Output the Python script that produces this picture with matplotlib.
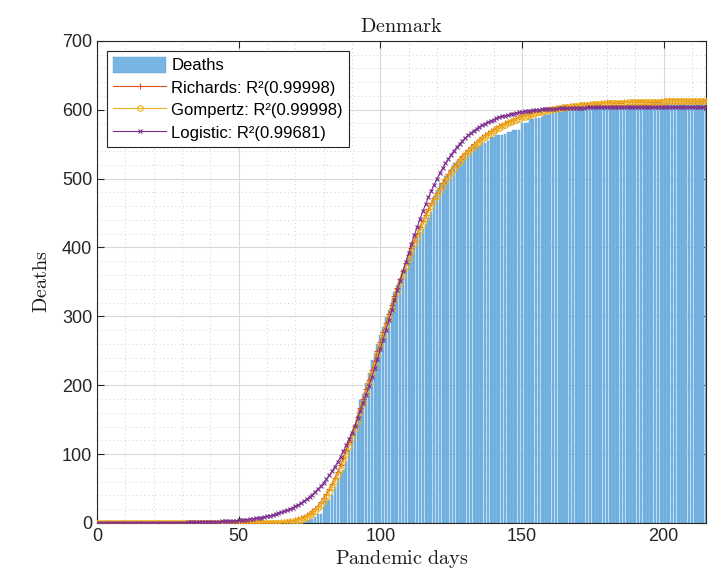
import numpy as np
import matplotlib
matplotlib.use("Agg")
import matplotlib.pyplot as plt
from matplotlib.ticker import MultipleLocator

# cumulative deaths, one value per pandemic day (days 1..70 are zero)
early_zero_days = 70
deaths_tail = [
    1, 2, 3, 4, 4, 6, 9, 13, 13, 24, 32, 34, 41, 52, 65, 72, 77, 90,
    104, 123, 139, 161, 179, 187, 203, 218, 237, 247, 260, 273, 285, 299, 309,
    321, 336, 346, 355, 364, 370, 384, 394, 403, 418, 422, 427, 434, 443, 452,
    475, 484, 493, 493, 503, 506, 514, 522, 526, 527, 529, 533, 537, 543, 547,
    548, 548, 551, 551, 554, 561, 561, 563, 563, 563, 565, 568, 568, 571, 571,
    571,
    580, 580, 580, 586, 587, 588, 588, 590, 593, 593, 594, 595, 597, 597, 597,
    598, 598, 598, 600, 600, 600, 600, 602, 603, 603, 604, 604, 604, 604, 605,
    605, 605, 606, 606, 606, 606, 606, 607, 607, 607, 607, 607, 607, 608, 608,
    608, 609, 609, 609, 609, 609, 609, 609, 610, 610, 610, 610, 610, 610, 611,
    611, 611, 611, 612, 612, 612, 612,
]
deaths = [0] * early_zero_days + deaths_tail
days = np.arange(1, len(deaths) + 1)

# fitted model parameters
richards_K, richards_r, richards_t0, richards_nu = 613.0, 0.0625, 97.6, 0.04
gompertz_K, gompertz_c, gompertz_ti = 613.0, 0.0613, 97.7
logistic_K, logistic_r, logistic_t0 = 604.0, 0.095, 103.5

labels = ["Deaths", "Richards: R\u00b2(0.99998)", "Gompertz: R\u00b2(0.99998)",
          "Logistic: R\u00b2(0.99681)"]

t = np.arange(0, len(deaths) + 1)
richards = richards_K * (1 + richards_nu * np.exp(-richards_r * (t - richards_t0))) ** (-1 / richards_nu)
gompertz = gompertz_K * np.exp(-np.exp(-gompertz_c * (t - gompertz_ti)))
logistic = logistic_K / (1 + np.exp(-logistic_r * (t - logistic_t0)))

plt.rcParams['font.family'] = ['Liberation Sans', 'DejaVu Sans']
plt.rcParams['mathtext.fontset'] = 'cm'

fig = plt.figure(figsize=(7.19, 5.83), dpi=100)
ax = fig.add_axes([0.135, 0.103, 0.847, 0.827])

bars = ax.bar(days, deaths, width=0.8, color='#78b5e2', edgecolor='#5ea3d6',
              linewidth=0.3, zorder=2)
l1, = ax.plot(t, richards, color='#D95319', marker='+', markersize=5, linewidth=0.8,
              markeredgewidth=0.8, zorder=3)
l2, = ax.plot(t, gompertz, color='#EDB120', marker='o', markersize=4, linewidth=0.8,
              markerfacecolor='none', markeredgewidth=0.8, zorder=4)
l3, = ax.plot(t, logistic, color='#7E2F8E', marker='x', markersize=3.5, linewidth=0.8,
              markeredgewidth=0.8, zorder=5)

ax.set_xlim(0, 215)
ax.set_ylim(0, 700)
ax.xaxis.set_major_locator(MultipleLocator(50))
ax.xaxis.set_minor_locator(MultipleLocator(10))
ax.yaxis.set_major_locator(MultipleLocator(100))
ax.yaxis.set_minor_locator(MultipleLocator(20))

ax.grid(which='major', color='#d9d9d9', linewidth=0.8, zorder=0)
ax.grid(which='minor', color='#d0d0d0', linewidth=0.7, linestyle=(0, (1, 3)), zorder=0)
ax.set_axisbelow(True)
ax.tick_params(which='both', direction='in', top=True, right=True, labelsize=13,
               colors='#262626', length=5)
ax.tick_params(which='minor', length=0)
for s in ax.spines.values():
    s.set_color('#262626')
    s.set_linewidth(0.8)

ax.set_title(r'$\mathrm{Denmark}$', fontsize=14.5, color='#1a1a1a', pad=6)
ax.set_xlabel(r'$\mathrm{Pandemic\ days}$', fontsize=14.5, color='#1a1a1a', labelpad=2)
ax.set_ylabel(r'$\mathrm{Deaths}$', fontsize=14.5, color='#1a1a1a', labelpad=8)

leg = ax.legend([bars, l1, l2, l3], labels, loc='upper left', fontsize=12,
                fancybox=False, framealpha=1, edgecolor='#262626',
                borderaxespad=0.6, handlelength=3.2, handleheight=1.1,
                handletextpad=0.3, labelspacing=0.35, borderpad=0.35)
leg.get_frame().set_linewidth(0.8)

fig.savefig('out.png', dpi=100)
